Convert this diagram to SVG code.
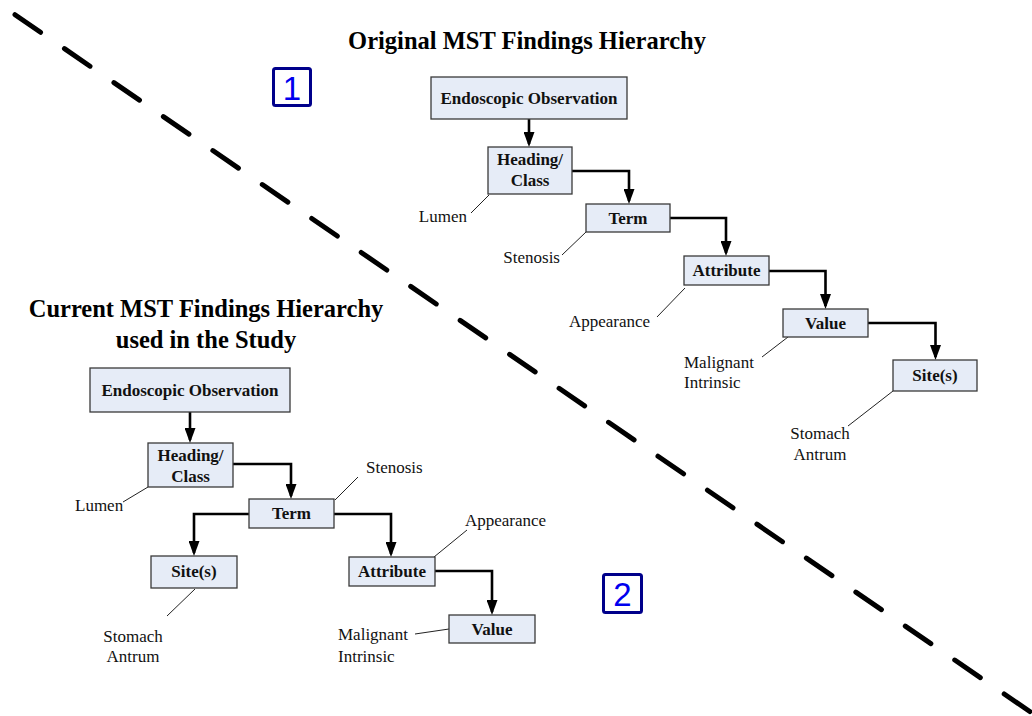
<svg xmlns="http://www.w3.org/2000/svg" width="1032" height="716" viewBox="0 0 1032 716">
  <defs>
    <marker id="arrow" markerUnits="userSpaceOnUse" markerWidth="15" markerHeight="11" refX="12" refY="5.5" orient="auto">
      <path d="M0,0 L15,5.5 L0,11 Z" fill="#000"/>
    </marker>
    <style>
      .box { fill: #e6ecf7; stroke: #3a3a3a; stroke-width: 1.3; }
      .node { font-family: "Liberation Serif", "Times New Roman", serif; font-weight: bold; font-size: 17px; text-anchor: middle; fill: #111; }
      .lbl { font-family: "Liberation Serif", "Times New Roman", serif; font-size: 17px; fill: #111; }
      .title { font-family: "Liberation Serif", "Times New Roman", serif; font-weight: bold; font-size: 24.5px; text-anchor: middle; fill: #000; }
      .edge { fill: none; stroke: #000; stroke-width: 2.6; marker-end: url(#arrow); }
      .lead { stroke: #222; stroke-width: 1; }
      .tag { fill: #fff; stroke: #00008b; stroke-width: 3; }
      .tagtxt { font-family: "Liberation Sans", Arial, sans-serif; font-size: 33px; text-anchor: middle; fill: #0000ee; }
    </style>
  </defs>

  <rect width="1032" height="716" fill="#fff"/>

  <!-- diagonal divider -->
  <line x1="15" y1="14.7" x2="1045" y2="722" stroke="#000" stroke-width="5" stroke-linecap="round" stroke-dasharray="31 29"/>

  <!-- titles -->
  <text class="title" x="527" y="49">Original MST Findings Hierarchy</text>
  <text class="title" x="206" y="317">Current MST Findings Hierarchy</text>
  <text class="title" x="206" y="348">used in the Study</text>

  <!-- section tags -->
  <g id="tag1">
    <rect class="tag" x="273.5" y="68.5" width="37" height="37" rx="2"/>
    <text class="tagtxt" x="292" y="100">1</text>
  </g>
  <g id="tag2">
    <rect class="tag" x="603.5" y="574.5" width="38" height="38" rx="2"/>
    <text class="tagtxt" x="622.5" y="606">2</text>
  </g>

  <!-- connectors -->
  <g id="connectors">
    <!-- original hierarchy -->
    <path class="edge" d="M529,119 V144"/>
    <path class="edge" d="M572,171 H629 V201"/>
    <path class="edge" d="M670,218 H726 V253"/>
    <path class="edge" d="M769,271 H825.5 V306"/>
    <path class="edge" d="M868,323 H935.5 V357"/>
    <!-- current hierarchy -->
    <path class="edge" d="M190,412 V440"/>
    <path class="edge" d="M233,464 H291 V496"/>
    <path class="edge" d="M249,514 H194 V553"/>
    <path class="edge" d="M334,514 H391 V554"/>
    <path class="edge" d="M435,571 H492 V612"/>
    <!-- annotation leaders -->
    <line class="lead" x1="471" y1="213" x2="489" y2="195"/>
    <line class="lead" x1="562" y1="255" x2="586" y2="232"/>
    <line class="lead" x1="657" y1="317" x2="685" y2="288"/>
    <line class="lead" x1="762" y1="357" x2="788" y2="337"/>
    <line class="lead" x1="848" y1="426" x2="893" y2="391"/>
    <line class="lead" x1="123" y1="502" x2="148" y2="487"/>
    <line class="lead" x1="358" y1="477" x2="335" y2="500"/>
    <line class="lead" x1="467" y1="530" x2="434" y2="557"/>
    <line class="lead" x1="167" y1="616" x2="195" y2="589"/>
    <line class="lead" x1="415" y1="634" x2="449" y2="629"/>
  </g>

  <!-- original hierarchy nodes -->
  <g id="obs1">
    <rect class="box" x="431" y="77" width="196" height="42"/>
    <text class="node" x="529" y="104">Endoscopic Observation</text>
  </g>
  <g id="heading1">
    <rect class="box" x="488" y="147" width="84" height="47"/>
    <text class="node" x="530" y="165">Heading/</text>
    <text class="node" x="530" y="186">Class</text>
  </g>
  <g id="term1">
    <rect class="box" x="586" y="204" width="84" height="28"/>
    <text class="node" x="628" y="224">Term</text>
  </g>
  <g id="attr1">
    <rect class="box" x="684" y="256" width="85" height="29"/>
    <text class="node" x="726.5" y="276">Attribute</text>
  </g>
  <g id="value1">
    <rect class="box" x="783" y="309" width="85" height="28"/>
    <text class="node" x="825.5" y="329">Value</text>
  </g>
  <g id="site1">
    <rect class="box" x="893" y="360" width="84" height="31"/>
    <text class="node" x="935" y="381">Site(s)</text>
  </g>

  <!-- original hierarchy annotations -->
  <g id="ann1">
    <text class="lbl" x="467" y="222" text-anchor="end">Lumen</text>
    <text class="lbl" x="560" y="263" text-anchor="end">Stenosis</text>
    <text class="lbl" x="569" y="327">Appearance</text>
    <text class="lbl" x="684" y="368">Malignant</text>
    <text class="lbl" x="684" y="388">Intrinsic</text>
    <text class="lbl" x="820" y="439" text-anchor="middle">Stomach</text>
    <text class="lbl" x="820" y="460" text-anchor="middle">Antrum</text>
  </g>

  <!-- current hierarchy nodes -->
  <g id="obs2">
    <rect class="box" x="90" y="368" width="200" height="44"/>
    <text class="node" x="190" y="396">Endoscopic Observation</text>
  </g>
  <g id="heading2">
    <rect class="box" x="148" y="443" width="85" height="44"/>
    <text class="node" x="190.5" y="461">Heading/</text>
    <text class="node" x="190.5" y="482">Class</text>
  </g>
  <g id="term2">
    <rect class="box" x="249" y="499" width="85" height="29"/>
    <text class="node" x="291.5" y="519">Term</text>
  </g>
  <g id="site2">
    <rect class="box" x="151" y="556" width="86" height="32"/>
    <text class="node" x="194" y="577">Site(s)</text>
  </g>
  <g id="attr2">
    <rect class="box" x="349" y="557" width="86" height="29"/>
    <text class="node" x="392" y="577">Attribute</text>
  </g>
  <g id="value2">
    <rect class="box" x="449" y="615" width="86" height="28"/>
    <text class="node" x="492" y="635">Value</text>
  </g>

  <!-- current hierarchy annotations -->
  <g id="ann2">
    <text class="lbl" x="75" y="511">Lumen</text>
    <text class="lbl" x="366" y="473">Stenosis</text>
    <text class="lbl" x="465" y="526">Appearance</text>
    <text class="lbl" x="133" y="642" text-anchor="middle">Stomach</text>
    <text class="lbl" x="133" y="662" text-anchor="middle">Antrum</text>
    <text class="lbl" x="338" y="640">Malignant</text>
    <text class="lbl" x="338" y="662">Intrinsic</text>
  </g>
</svg>
